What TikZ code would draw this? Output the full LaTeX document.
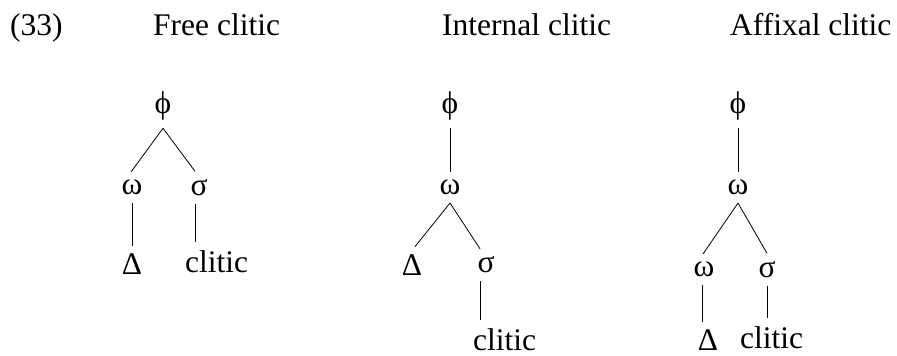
\documentclass[tikz,border=0pt]{standalone}
\usepackage{fontspec}
\setmainfont{Liberation Serif}
\begin{document}
\begin{tikzpicture}[x=1pt,y=-1pt,
  lab/.style={inner sep=0pt, font=\fontsize{31.5}{38}\selectfont},
  gr/.style={inner sep=0pt, outer ysep=8pt, font=\fontsize{31.5}{38}\selectfont},
  word/.style={lab, anchor=base west},
  ln/.style={line width=0.8pt},
  toword/.style={ln, shorten >=8pt}]
\useasboundingbox (0,0) rectangle (897,356);
% titles
\node[lab, anchor=base west] (t0) at (10,35) {(33)};
\node[lab, anchor=base west] (t1) at (153,35) {Free clitic};
\node[lab, anchor=base west] (t2) at (442,35) {Internal clitic};
\node[lab, anchor=base west] (t3) at (730,35) {Affixal clitic};
% tree 1
\node[gr] (p1) at (163,106) {ϕ};
\node[gr] (w1) at (132,187.5) {ω};
\node[gr] (s1) at (199,187.5) {σ};
\node[gr] (d1) at (132,264.5) {Δ};
\node[word] (c1) at (185,272) {clitic};
\draw[ln] (p1.south) -- ([xshift=-1]w1.north);
\draw[ln] (p1.south) -- ([xshift=-4]s1.north);
\draw[ln] (w1.south) -- (d1.north);
\draw[toword] ([xshift=-4]s1.south) -- ([xshift=-4]s1.south |- c1.north);
% tree 2
\node[gr] (p2) at (450,106) {ϕ};
\node[gr] (w2) at (450,187.5) {ω};
\node[gr] (d2) at (412,265) {Δ};
\node[gr] (s2) at (486,265) {σ};
\node[word] (c2) at (473,350) {clitic};
\draw[ln] (p2.south) -- (w2.north);
\draw[ln] (w2.south) -- ([xshift=3]d2.north);
\draw[ln] (w2.south) -- ([xshift=-6]s2.north);
\draw[toword] ([xshift=-6]s2.south) -- ([xshift=-6]s2.south |- c2.north);
% tree 3
\node[gr] (p3) at (738,106) {ϕ};
\node[gr] (w3) at (738,187.5) {ω};
\node[gr] (w4) at (704,269.5) {ω};
\node[gr] (s3) at (767,269.5) {σ};
\node[gr] (d3) at (708,340.5) {Δ};
\node[word] (c3) at (740,348) {clitic};
\draw[ln] (p3.south) -- (w3.north);
\draw[ln] (w3.south) -- ([xshift=-1]w4.north);
\draw[ln] (w3.south) -- (s3.north);
\draw[ln] ([xshift=-2]w4.south) -- ([xshift=-2]w4.south |- d3.north);
\draw[toword] (s3.south) -- (s3.south |- c3.north);
\end{tikzpicture}
\end{document}
